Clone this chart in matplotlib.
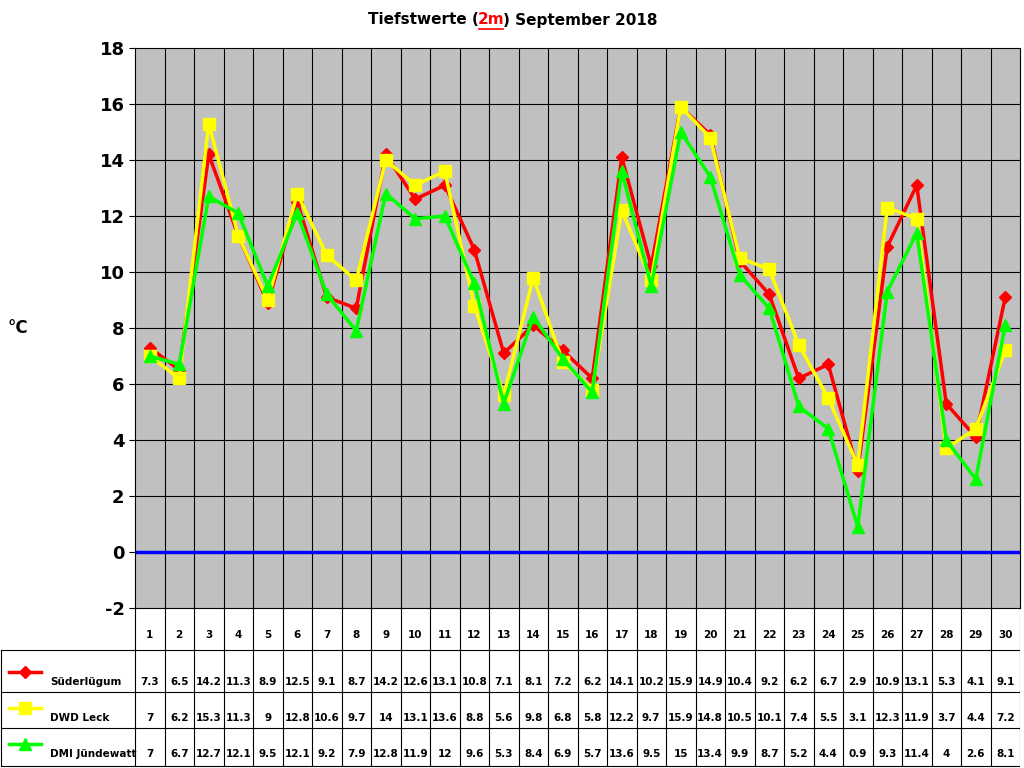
import matplotlib
matplotlib.use("Agg")
import matplotlib.pyplot as plt
from matplotlib.lines import Line2D

plt.rcParams['axes.unicode_minus'] = False
days = list(range(1, 31))
suder = [7.3,6.5,14.2,11.3,8.9,12.5,9.1,8.7,14.2,12.6,13.1,10.8,7.1,8.1,7.2,6.2,14.1,10.2,15.9,14.9,10.4,9.2,6.2,6.7,2.9,10.9,13.1,5.3,4.1,9.1]
leck = [7,6.2,15.3,11.3,9,12.8,10.6,9.7,14,13.1,13.6,8.8,5.6,9.8,6.8,5.8,12.2,9.7,15.9,14.8,10.5,10.1,7.4,5.5,3.1,12.3,11.9,3.7,4.4,7.2]
dmi = [7,6.7,12.7,12.1,9.5,12.1,9.2,7.9,12.8,11.9,12,9.6,5.3,8.4,6.9,5.7,13.6,9.5,15,13.4,9.9,8.7,5.2,4.4,0.9,9.3,11.4,4,2.6,8.1]
names = ["Süderlügum", "DWD Leck", "DMI Jündewatt"]
colors = ["#ff0000", "#ffff00", "#00ff00"]
markers = ["D", "s", "^"]
msizes = [6, 8, 8]
series = [suder, leck, dmi]

W, H = 1024, 768
fig = plt.figure(figsize=(W/100, H/100), dpi=100)
L, R = 135/W, 1020/W
ax = fig.add_axes([L, 1-608/H, R-L, (608-48)/H])
ax.set_facecolor("#c0c0c0")
ax.set_xlim(0.5, 30.5)
ax.set_ylim(-2, 18)
ax.set_yticks(range(-2, 19, 2))
ax.set_xticks([])
for x in range(1, 30):
    ax.axvline(x+0.5, color="black", lw=0.8, zorder=1)
for y in range(0, 18, 2):
    ax.axhline(y, color="black", lw=0.8, zorder=1)
ax.axhline(0, color="#0000ff", lw=2.5, zorder=2)
for s, c, m, ms in zip(series, colors, markers, msizes):
    ax.plot(days, s, color=c, marker=m, markersize=ms, lw=2.5, zorder=3)
ax.tick_params(axis="y", labelsize=13, length=4)
for t in ax.get_yticklabels():
    t.set_fontweight("bold")
for sp in ax.spines.values():
    sp.set_color("black")
fig.text(18/W, 1-328/H, "°C", fontsize=12, fontweight="bold", ha="center", va="center")

# title
ty = 1-20/H
fig.text(479/W, ty, "Tiefstwerte (", fontsize=11, fontweight="bold", ha="right", va="center")
fig.text(491/W, ty, "2m", fontsize=11, fontweight="bold", ha="center", va="center", color="red")
fig.text(503/W, ty, ") September 2018", fontsize=11, fontweight="bold", ha="left", va="center")
fig.add_artist(Line2D([479/W, 503/W], [1-29/H, 1-29/H], color="red", lw=1.2))

# table
cw = (1020-135)/30
x0 = 0.5 - 135/cw
tax = fig.add_axes([0, 0, R, 160/H])
tax.set_xlim(x0, 30.5)
tax.set_ylim(160, 0)
tax.axis("off")
rows_y = [0, 42, 84, 120, 158]
tax.plot([0.5, 0.5], [0, 158], color="black", lw=0.8)
for x in range(1, 31):
    tax.plot([x+0.5, x+0.5], [0, 158], color="black", lw=0.8)
for yb in rows_y[1:]:
    tax.plot([x0+0.05, 30.5], [yb, yb], color="black", lw=0.8)
tax.plot([x0+0.05, x0+0.05], [42, 158], color="black", lw=0.8)
for d in days:
    tax.text(d, 27, str(d), fontsize=7.5, fontweight="bold", ha="center", va="center")
for i, (s, c, m, ms, n) in enumerate(zip(series, colors, markers, msizes, names)):
    yc = 64 + 36*i
    tax.plot([x0+0.3, x0+1.4], [yc, yc], color=c, lw=2.5)
    tax.plot([x0+0.85], [yc], color=c, marker=m, markersize=ms)
    tax.text(x0+1.7, yc+10, n, fontsize=7.5, fontweight="bold", ha="left", va="center")
    for d, v in zip(days, s):
        tax.text(d, yc+10, f"{v:g}", fontsize=7.5, fontweight="bold", ha="center", va="center")

fig.savefig("out.png", dpi=100)
